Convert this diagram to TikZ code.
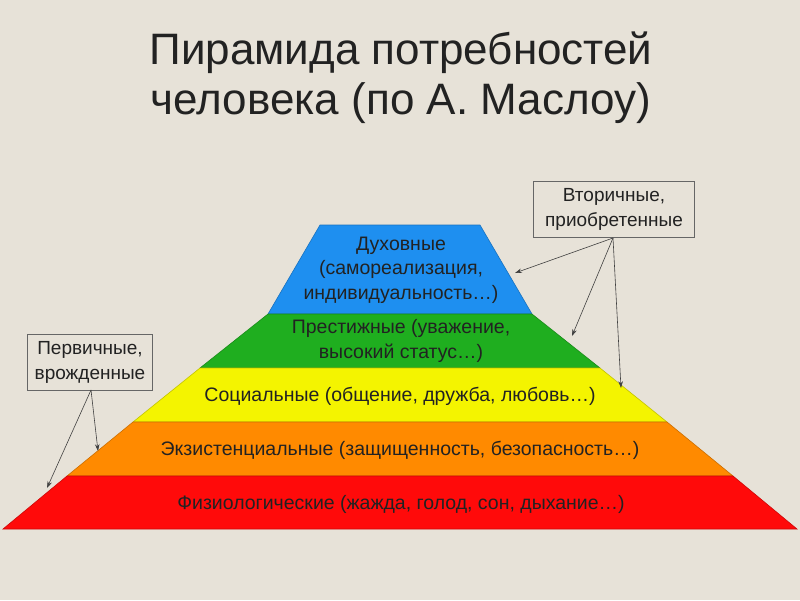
\documentclass[tikz,border=0pt]{standalone}
\usepackage{fontspec}
\setmainfont{Liberation Sans}
\usepackage{xcolor}
\usetikzlibrary{positioning,arrows.meta}
\definecolor{bgbeige}{HTML}{E7E2D8}
\definecolor{duh}{HTML}{1E8FF0}
\definecolor{pres}{HTML}{1FAE1F}
\definecolor{soc}{HTML}{F4F400}
\definecolor{eks}{HTML}{FF8A00}
\definecolor{fiz}{HTML}{FF0A0A}
\definecolor{txt}{HTML}{222222}

\begin{document}
\begin{tikzpicture}[x=1pt, y=-1pt,
  lbl/.style={align=center, text=txt, font=\fontsize{19.5}{24.5}\selectfont, inner sep=0pt},
  call/.style={draw=black!60, line width=0.7pt, align=center, text=txt, font=\fontsize{19}{25}\selectfont, inner sep=0pt, minimum width=#1, minimum height=56pt},
  arr/.style={draw=black!75, line width=0.6pt, -{Stealth[length=2.4mm, width=1.6mm]}}]
\fill[bgbeige] (0,0) rectangle (800,600);
\useasboundingbox (0,0) rectangle (800,600);
% title
\node[font=\fontsize{44}{50}\selectfont, align=center, text=txt] (title) at (401,78) {Пирамида потребностей\\человека (по А. Маслоу)};
% layers: top y / bottom y / top half-width / bottom half-width / colour
\foreach \yt/\yb/\wt/\wb/\col in {225/314/80/132/duh, 314/368/132/200/pres, 368/422/200/267/soc, 422/476/267/333/eks, 476/529/333/397/fiz}
  \filldraw[fill=\col, draw=\col!80!black, line width=0.6pt] (400-\wt,\yt) -- (400+\wt,\yt) -- (400+\wb,\yb) -- (400-\wb,\yb) -- cycle;
\node[lbl] (duhl) at (401,270) {Духовные\\(самореализация,\\индивидуальность…)};
\node[lbl] (presl) at (401,341) {Престижные (уважение,\\высокий статус…)};
\node[lbl] (socl) at (400,396) {Социальные (общение, дружба, любовь…)};
\node[lbl] (eksl) at (400,450) {Экзистенциальные (защищенность, безопасность…)};
\node[lbl] (fizl) at (401,504) {Физиологические (жажда, голод, сон, дыхание…)};
% callouts
\node[call=161pt] (vtor) at (614,209) {Вторичные,\\приобретенные};
\node[call=125pt] (perv) at (90,362) {Первичные,\\врожденные};
\coordinate (vs) at (613,238);
\coordinate (ps) at (91,390);
\coordinate (tduh) at (515,273);
\coordinate (tpres) at (572,336);
\coordinate (tsoc) at (621,388);
\coordinate (teks) at (98,451);
\coordinate (tfiz) at (47,488);
\foreach \t in {tduh,tpres,tsoc} \draw[arr] (vs) -- (\t);
\foreach \t in {teks,tfiz} \draw[arr] (ps) -- (\t);
\end{tikzpicture}
\end{document}
